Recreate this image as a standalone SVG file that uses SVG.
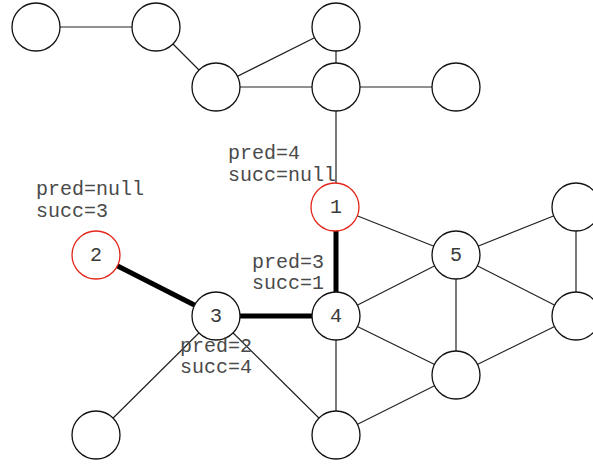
<svg xmlns="http://www.w3.org/2000/svg" width="593" height="465" viewBox="0 0 593 465">
  <style>
    .edge { stroke: #222; stroke-width: 1.2; fill: none; }
    .path { stroke: #000; stroke-width: 5; fill: none; }
    .node circle { fill: #fff; stroke: #111; stroke-width: 1.3; }
    .node.mark circle { stroke: #e3261a; }
    .lbl { font-family: "Liberation Mono", "Courier New", monospace; font-size: 20px; fill: #4a4a4a; }
    .num { font-family: "Liberation Mono", "Courier New", monospace; font-size: 20px; fill: #3a3a3a; text-anchor: middle; }
  </style>
  <rect width="593" height="465" fill="#fff"/>

  <!-- connectors -->
  <g id="edges">
    <line class="edge" x1="36" y1="27" x2="156" y2="27"/>
    <line class="edge" x1="156" y1="27" x2="216" y2="87"/>
    <line class="edge" x1="216" y1="87" x2="336" y2="27"/>
    <line class="edge" x1="216" y1="87" x2="336" y2="87"/>
    <line class="edge" x1="336" y1="27" x2="336" y2="87"/>
    <line class="edge" x1="336" y1="87" x2="456" y2="87"/>
    <line class="edge" x1="336" y1="87" x2="336" y2="207"/>
    <line class="edge" x1="335" y1="207" x2="456" y2="255"/>
    <line class="edge" x1="336" y1="316" x2="456" y2="255"/>
    <line class="edge" x1="456" y1="255" x2="576" y2="207"/>
    <line class="edge" x1="576" y1="207" x2="576" y2="316"/>
    <line class="edge" x1="456" y1="255" x2="576" y2="316"/>
    <line class="edge" x1="456" y1="255" x2="456" y2="375"/>
    <line class="edge" x1="336" y1="316" x2="456" y2="375"/>
    <line class="edge" x1="456" y1="375" x2="576" y2="316"/>
    <line class="edge" x1="336" y1="316" x2="336" y2="435"/>
    <line class="edge" x1="456" y1="375" x2="336" y2="435"/>
    <line class="edge" x1="216" y1="316" x2="96" y2="435"/>
    <line class="edge" x1="216" y1="316" x2="336" y2="435"/>
    <!-- highlighted path 2 - 3 - 4 - 1 -->
    <line class="path" x1="96" y1="255" x2="216" y2="316"/>
    <line class="path" x1="216" y1="316" x2="336" y2="316"/>
    <line class="path" x1="336" y1="316" x2="336" y2="207"/>
  </g>

  <!-- nodes -->
  <g id="n-a" class="node"><circle cx="36" cy="27" r="24"/></g>
  <g id="n-b" class="node"><circle cx="156" cy="27" r="24"/></g>
  <g id="n-c" class="node"><circle cx="336" cy="27" r="24"/></g>
  <g id="n-d" class="node"><circle cx="216" cy="87" r="24"/></g>
  <g id="n-e" class="node"><circle cx="336" cy="87" r="24"/></g>
  <g id="n-f" class="node"><circle cx="456" cy="87" r="24"/></g>
  <g id="n-1" class="node mark"><circle cx="335" cy="207" r="24"/><text class="num" x="336" y="213">1</text></g>
  <g id="n-2" class="node mark"><circle cx="96" cy="255" r="24"/><text class="num" x="96" y="261">2</text></g>
  <g id="n-3" class="node"><circle cx="216" cy="316" r="24"/><text class="num" x="216" y="322">3</text></g>
  <g id="n-4" class="node"><circle cx="336" cy="316" r="24"/><text class="num" x="336" y="322">4</text></g>
  <g id="n-5" class="node"><circle cx="456" cy="255" r="24"/><text class="num" x="456" y="261">5</text></g>
  <g id="n-g" class="node"><circle cx="576" cy="207" r="24"/></g>
  <g id="n-h" class="node"><circle cx="576" cy="316" r="24"/></g>
  <g id="n-i" class="node"><circle cx="456" cy="375" r="24"/></g>
  <g id="n-j" class="node"><circle cx="96" cy="435" r="24"/></g>
  <g id="n-k" class="node"><circle cx="336" cy="435" r="24"/></g>

  <!-- pred / succ annotations -->
  <g id="labels">
    <text class="lbl" x="228" y="159">pred=4</text>
    <text class="lbl" x="228" y="181">succ=null</text>
    <text class="lbl" x="36" y="195">pred=null</text>
    <text class="lbl" x="36" y="217">succ=3</text>
    <text class="lbl" x="252" y="268">pred=3</text>
    <text class="lbl" x="252" y="289">succ=1</text>
    <text class="lbl" x="180" y="352">pred=2</text>
    <text class="lbl" x="180" y="373">succ=4</text>
  </g>
</svg>
